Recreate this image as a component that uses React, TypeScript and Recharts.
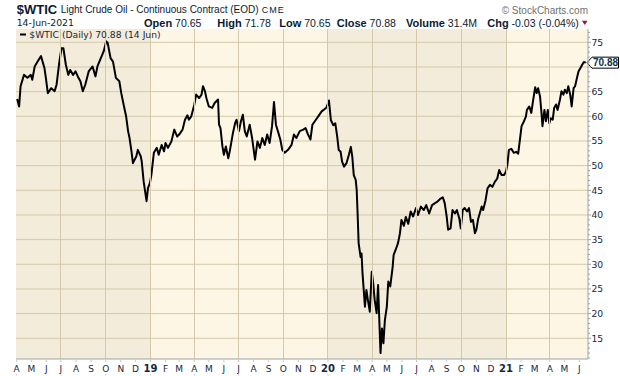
import React from 'react';
import { LineChart, Line, XAxis, YAxis, ReferenceLine, CartesianGrid } from 'recharts';

// ---------- DATA ----------
const dates: string[] = [
  '2018-04-02','2018-04-06','2018-04-09','2018-04-16','2018-04-23','2018-04-30','2018-05-03','2018-05-08','2018-05-14','2018-05-21',
  '2018-05-28','2018-05-31','2018-06-04','2018-06-11','2018-06-18','2018-06-22','2018-06-27','2018-07-02','2018-07-06','2018-07-11',
  '2018-07-16','2018-07-20','2018-07-26','2018-07-31','2018-08-06','2018-08-10','2018-08-15','2018-08-20','2018-08-27','2018-09-04',
  '2018-09-10','2018-09-14','2018-09-21','2018-09-27','2018-10-02','2018-10-05','2018-10-11','2018-10-16','2018-10-22','2018-10-29',
  '2018-11-02','2018-11-07','2018-11-12','2018-11-16','2018-11-19','2018-11-23','2018-11-26','2018-12-03','2018-12-06','2018-12-12',
  '2018-12-14','2018-12-18','2018-12-24','2018-12-27','2018-12-31',
  '2019-01-03','2019-01-08','2019-01-14','2019-01-18','2019-01-24','2019-01-29','2019-02-01','2019-02-06','2019-02-13','2019-02-19',
  '2019-02-25','2019-03-01','2019-03-08','2019-03-13','2019-03-18','2019-03-21','2019-03-26','2019-04-01','2019-04-05','2019-04-11',
  '2019-04-16','2019-04-19','2019-04-23','2019-04-26','2019-05-01','2019-05-08','2019-05-13','2019-05-20','2019-05-22','2019-05-25',
  '2019-05-29','2019-06-01','2019-06-05','2019-06-10','2019-06-13','2019-06-19','2019-06-24','2019-06-27','2019-07-02','2019-07-06',
  '2019-07-10','2019-07-14','2019-07-18','2019-07-24','2019-07-29','2019-08-04','2019-08-09','2019-08-14','2019-08-19','2019-08-24',
  '2019-08-29','2019-09-03','2019-09-08','2019-09-12','2019-09-16','2019-09-20','2019-09-25','2019-09-29','2019-10-04','2019-10-11',
  '2019-10-18','2019-10-23','2019-10-28','2019-11-04','2019-11-11','2019-11-16','2019-11-21','2019-11-26','2019-11-30','2019-12-05',
  '2019-12-12','2019-12-19','2019-12-23','2019-12-29',
  '2020-01-03','2020-01-07','2020-01-12','2020-01-16','2020-01-20','2020-01-23','2020-01-27','2020-01-30','2020-02-03','2020-02-08',
  '2020-02-13','2020-02-17','2020-02-20','2020-02-23','2020-02-27','2020-02-29','2020-03-02','2020-03-04','2020-03-08','2020-03-10',
  '2020-03-12','2020-03-15','2020-03-17','2020-03-20','2020-03-23','2020-03-27','2020-03-31','2020-04-03','2020-04-06','2020-04-10',
  '2020-04-13','2020-04-15','2020-04-18','2020-04-21','2020-04-24','2020-04-27','2020-05-01','2020-05-04','2020-05-08','2020-05-13',
  '2020-05-15','2020-05-19','2020-05-24','2020-05-28','2020-05-31','2020-06-05','2020-06-09','2020-06-14','2020-06-19','2020-06-24',
  '2020-06-30','2020-07-04','2020-07-10','2020-07-16','2020-07-21','2020-07-27','2020-08-02','2020-08-08','2020-08-13','2020-08-18',
  '2020-08-24','2020-08-28','2020-09-01','2020-09-04','2020-09-09','2020-09-13','2020-09-18','2020-09-22','2020-09-27','2020-09-30',
  '2020-10-04','2020-10-08','2020-10-13','2020-10-17','2020-10-21','2020-10-25','2020-10-29','2020-11-01','2020-11-05','2020-11-08',
  '2020-11-12','2020-11-15','2020-11-20','2020-11-24','2020-11-29','2020-12-04','2020-12-09','2020-12-14','2020-12-18','2020-12-23',
  '2020-12-28',
  '2021-01-01','2021-01-04','2021-01-07','2021-01-12','2021-01-17','2021-01-22','2021-01-26','2021-01-30','2021-02-02','2021-02-07',
  '2021-02-11','2021-02-13','2021-02-18','2021-02-22','2021-02-26','2021-03-02','2021-03-05','2021-03-08','2021-03-12','2021-03-15',
  '2021-03-17','2021-03-21','2021-03-24','2021-03-28','2021-03-31','2021-04-03','2021-04-07','2021-04-10','2021-04-14','2021-04-17',
  '2021-04-22','2021-04-25','2021-04-29','2021-05-02','2021-05-06','2021-05-09','2021-05-13','2021-05-16','2021-05-20','2021-05-23',
  '2021-05-27','2021-05-30','2021-06-03','2021-06-07','2021-06-10','2021-06-14',
];

const closes: number[] = [
  63.5,62.0,66.1,68.4,67.8,68.4,67.4,70.1,71.1,72.2,
  69.8,67.8,64.7,65.7,65.1,66.4,70.5,73.8,73.8,70.5,
  68.4,69.4,68.4,69.1,67.8,67.1,65.1,66.4,69.1,70.1,
  68.1,70.1,71.8,73.2,75.2,74.9,71.8,71.1,67.8,67.1,
  64.7,62.3,60.0,57.0,55.6,52.9,50.5,51.9,53.2,51.9,
  50.9,46.8,42.8,45.5,46.5,
  48.2,52.6,53.6,52.2,54.2,52.9,54.6,53.6,54.9,57.3,
  55.9,56.3,57.3,59.3,60.2,59.3,60.0,62.3,64.4,63.7,
  64.4,66.1,65.1,63.7,62.0,61.7,62.7,63.4,58.3,57.6,
  53.9,52.2,53.9,51.5,52.9,56.3,58.6,59.3,57.0,59.0,
  60.3,57.0,55.9,58.3,55.6,51.2,54.9,53.6,55.6,54.2,
  56.3,54.6,58.0,62.9,58.3,57.0,55.3,53.2,52.6,53.2,
  54.2,56.3,55.6,57.0,57.3,57.6,56.3,55.3,58.3,59.0,
  60.0,61.0,61.3,61.8,
  63.2,59.2,58.2,58.6,55.9,53.2,52.8,50.8,49.8,50.5,
  52.2,53.8,51.8,48.1,47.1,45.1,40.0,34.3,31.5,32.2,
  28.2,24.1,21.4,24.8,22.8,20.4,28.5,26.1,22.8,20.1,
  25.8,20.1,12.0,17.0,14.0,18.7,21.4,26.5,25.5,29.5,
  31.9,32.9,34.3,36.3,39.0,37.8,39.6,38.2,40.7,39.7,
  41.4,40.0,41.7,41.0,42.0,40.3,42.0,42.4,42.7,43.2,
  43.6,42.4,39.7,37.0,37.3,41.0,40.3,41.0,39.3,37.3,
  41.0,41.4,40.7,41.4,38.6,39.0,36.3,37.0,39.3,40.3,
  41.7,41.0,43.0,45.4,46.1,45.7,46.7,47.4,49.1,48.1,
  48.1,
  48.8,50.3,53.2,53.4,52.6,52.8,52.4,55.6,58.0,59.0,
  60.0,61.3,62.0,60.7,63.4,65.9,64.7,65.7,64.0,60.7,
  58.0,61.3,59.0,61.3,58.6,59.6,59.3,61.7,62.4,61.3,
  63.4,65.1,64.4,65.4,64.7,66.1,64.4,62.0,65.7,66.1,
  67.8,69.1,69.8,70.5,71.0,70.88,
];

const monthTicks: string[] = [
  '2018-04-01','2018-05-01','2018-06-01','2018-07-01','2018-08-01','2018-09-01','2018-10-01','2018-11-01','2018-12-01',
  '2019-01-01','2019-02-01','2019-03-01','2019-04-01','2019-05-01','2019-06-01','2019-07-01','2019-08-01','2019-09-01','2019-10-01','2019-11-01','2019-12-01',
  '2020-01-01','2020-02-01','2020-03-01','2020-04-01','2020-05-01','2020-06-01','2020-07-01','2020-08-01','2020-09-01','2020-10-01','2020-11-01','2020-12-01',
  '2021-01-01','2021-02-01','2021-03-01','2021-04-01','2021-05-01','2021-06-01',
];
const gridDates: string[] = [
  '2018-07-01','2018-10-01','2019-01-01','2019-04-01','2019-07-01','2019-10-01',
  '2020-01-01','2020-04-01','2020-07-01','2020-10-01','2021-01-01','2021-04-01',
];
const monthLetters: string[] = ['J','F','M','A','M','J','J','A','S','O','N','D'];
const priceLevels: number[] = [15, 20, 25, 30, 35, 40, 45, 50, 55, 60, 65, 70, 75];
const xDomainDates: string[] = ['2018-03-30T14:00:00Z', '2021-06-18T14:00:00Z'];
const yDomain: number[] = [10.8, 77.7];
const yearBandStarts: string[] = ['2018-03-30T14:00:00Z', '2019-01-01', '2020-01-01', '2021-01-01'];

const symbol = '$WTIC';
const fullName = 'Light Crude Oil - Continuous Contract (EOD)';
const exchange = 'CME';
const quoteDate = '14-Jun-2021';
const quoteLabels: string[] = ['Open', 'High', 'Low', 'Close', 'Volume', 'Chg'];
const quoteValues: string[] = ['70.65', '71.78', '70.65', '70.88', '31.4M', '-0.03 (-0.04%)'];
const legendText = '$WTIC (Daily) 70.88 (14 Jun)';
const copyright = '\u00A9 StockCharts.com';

// ---------- STYLE ----------
const LIGHT = '#fdf6e5';
const DARK = '#f4ecda';
const GRID = '#d5c8ab';
const BORDER = '#98a6ab';
const TEXT = '#15293b';
const HEAD = '#0b1b2f';

const ts = (s: string) => Date.parse(s.length === 10 ? s + 'T00:00:00Z' : s);
const data = dates.map((d, i) => ({ t: ts(d), close: closes[i] }));
const xDomain = [ts(xDomainDates[0]), ts(xDomainDates[1])];
const yMinorTicks: number[] = [];
for (let v = Math.ceil(yDomain[0]); v <= Math.floor(yDomain[1]); v++) yMinorTicks.push(v);
const lastClose = closes[closes.length - 1];

const hGridData = priceLevels.map((p) => [
  { t: xDomain[0], g: p },
  { t: xDomain[1], g: p },
]);

const crisp = (v: number) => Math.floor(v) + 0.5;
const vGridShape = (p: any) => {
  const x = crisp(p.x1);
  return <line x1={x} x2={x} y1={p.y1} y2={p.y2} stroke={GRID} strokeWidth={1} />;
};

const XTick = (props: any) => {
  const { x, y, payload } = props;
  const d = new Date(payload.value);
  const m = d.getUTCMonth();
  const isYear = m === 0;
  const label = isYear ? String(d.getUTCFullYear()).slice(2) : monthLetters[m];
  return (
    <g>
      <line x1={x} x2={x} y1={y + 1} y2={y + 3} stroke="#c4c8c8" />
      <text
        x={x}
        y={y + 13}
        textAnchor="middle"
        fontFamily="'DejaVu Sans', Verdana, sans-serif"
        fontSize={isYear ? 10 : 9}
        fontWeight={isYear ? 'bold' : 'normal'}
        fill={TEXT}
      >
        {label}
      </text>
      {m % 3 === 0 && <line x1={x} x2={x} y1={y + 15} y2={y + 16.5} stroke="#c8c8c8" />}
    </g>
  );
};

const YTick = (props: any) => {
  const { x, y, payload } = props;
  const v = payload.value;
  const major = v % 5 === 0;
  const hiddenByTag = Math.abs(v - lastClose) < 2.5;
  return (
    <g>
      <line x1={x} x2={x + (major ? 3 : 2)} y1={y} y2={y} stroke={BORDER} />
      {major && !hiddenByTag && (
        <text x={x + 3.5} y={y + 3.3} fontFamily="'DejaVu Sans', Verdana, sans-serif" fontSize={9.2} fill={TEXT}>
          {v}
        </text>
      )}
    </g>
  );
};

const PriceTag = (props: any) => {
  const vb = props.viewBox || {};
  const x0 = vb.x + vb.width;
  const cy = vb.y;
  const pts = `${x0 - 1},${cy} ${x0 + 4},${cy - 5.5} ${x0 + 30.5},${cy - 5.5} ${x0 + 30.5},${cy + 5.5} ${x0 + 4},${cy + 5.5}`;
  return (
    <g>
      <polygon points={pts} fill="#ffffff" stroke="#000" strokeWidth={1} />
      <text x={x0 + 5} y={cy + 3.7} fontFamily="'Liberation Sans', Arial, sans-serif" fontWeight="bold" fontSize={10} fill="#0b3344">
        {lastClose.toFixed(2)}
      </text>
    </g>
  );
};

const quoteLabelX = [144, 217.3, 279.3, 336.7, 406, 487.3];

export default function App() {
  return (
    <div style={{ position: 'fixed', left: 0, top: 0, width: 620, height: 376, background: '#ffffff' }}>
      <LineChart
        width={620}
        height={376}
        data={data}
        margin={{ top: 29, right: 0, bottom: 0, left: 16 }}
      >
        <CartesianGrid
          horizontal={false}
          vertical={true}
          verticalValues={yearBandStarts.map(ts)}
          verticalFill={[DARK, LIGHT]}
          fillOpacity={1}
          stroke="transparent"
          strokeOpacity={0}
        />
        <XAxis
          dataKey="t"
          type="number"
          domain={xDomain}
          allowDataOverflow
          ticks={monthTicks.map(ts)}
          interval={0}
          tickSize={0}
          tickMargin={0}
          height={17}
          axisLine={{ stroke: BORDER }}
          tickLine={false}
          tick={<XTick />}
        />
        <XAxis
          xAxisId="top"
          orientation="top"
          dataKey="t"
          type="number"
          domain={xDomain}
          allowDataOverflow
          ticks={[]}
          tick={false}
          tickLine={false}
          height={0}
          axisLine={{ stroke: BORDER }}
        />
        <YAxis
          orientation="right"
          type="number"
          domain={yDomain}
          allowDataOverflow
          ticks={yMinorTicks}
          interval={0}
          tickSize={0}
          tickMargin={0}
          width={32}
          axisLine={{ stroke: BORDER }}
          tickLine={false}
          tick={<YTick />}
        />
        <YAxis
          yAxisId="left"
          orientation="left"
          type="number"
          domain={yDomain}
          allowDataOverflow
          ticks={[]}
          tick={false}
          tickLine={false}
          width={0}
          axisLine={{ stroke: BORDER }}
        />
        {gridDates.map((g) => (
          <ReferenceLine key={'v' + g} x={ts(g)} stroke={GRID} strokeWidth={1} shape={vGridShape} zIndex={450} />
        ))}
        {hGridData.map((seg, i) => (
          <Line
            key={'h' + i}
            data={seg}
            dataKey="g"
            stroke={GRID}
            strokeWidth={1}
            dot={false}
            activeDot={false}
            legendType="none"
            isAnimationActive={false}
          />
        ))}
        <Line
          type="linear"
          dataKey="close"
          stroke="#000000"
          strokeWidth={2}
          dot={false}
          isAnimationActive={false}
          strokeLinejoin="round"
        />
        <ReferenceLine y={lastClose} stroke="none" label={<PriceTag />} />
      </LineChart>
      <svg
        width={620}
        height={376}
        style={{ position: 'absolute', left: 0, top: 0, pointerEvents: 'none' }}
      >
        <text x={16.7} y={13.5} fontFamily="'Liberation Sans', Arial, sans-serif" fontWeight="bold" fontSize={13} fill={HEAD}>
          {symbol}
        </text>
        <text x={60.7} y={13.3} fontFamily="'Liberation Sans', Arial, sans-serif" fontSize={10} fill={HEAD}>
          {fullName}
        </text>
        <text x={261.7} y={13.3} fontFamily="'Liberation Sans', Arial, sans-serif" fontSize={9} letterSpacing={1} fill={HEAD}>
          {exchange}
        </text>
        <text x={16.7} y={26} fontFamily="'DejaVu Sans', Verdana, sans-serif" fontSize={9.3} fill={HEAD}>
          {quoteDate}
        </text>
        {quoteLabels.map((l, i) => (
          <text key={'q' + l} x={quoteLabelX[i]} y={26.5} fontFamily="'Liberation Sans', Arial, sans-serif" fontSize={10.5} fill={HEAD}>
            <tspan fontWeight="bold" fontSize={11}>{l}</tspan>
            <tspan>{' ' + quoteValues[i]}</tspan>
          </text>
        ))}
        <polygon points="582,20.8 587.5,20.8 584.75,25" fill="#a0102e" />
        <text x={588} y={14} textAnchor="end" fontFamily="'Liberation Sans', Arial, sans-serif" fontSize={10} fill="#6f6f6f">
          {copyright}
        </text>
        <line x1={20} x2={26} y1={34.5} y2={34.5} stroke="#000" strokeWidth={2} />
        <text x={29.3} y={38} fontFamily="'DejaVu Sans', Verdana, sans-serif" fontSize={9.2} fill={TEXT}>
          {legendText}
        </text>
      </svg>
    </div>
  );
}
